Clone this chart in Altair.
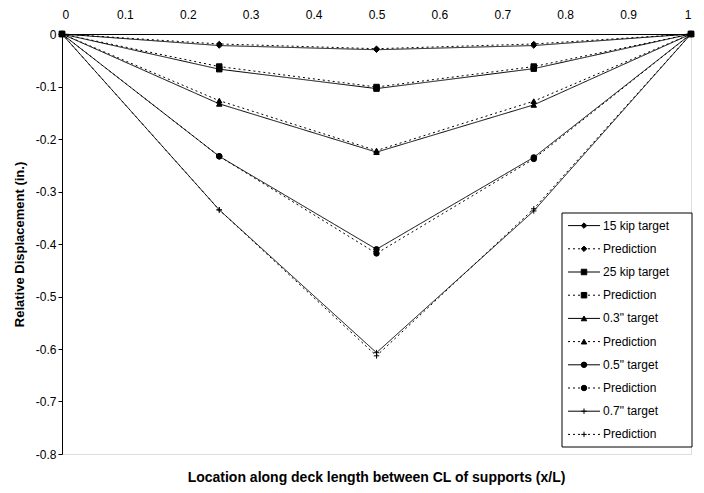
import altair as alt
import pandas as pd

x_pos = [0, 0.25, 0.5, 0.75, 1]
series_names = ["15 kip target", "Prediction (15 kip)", "25 kip target", "Prediction (25 kip)",
                "0.3\" target", "Prediction (0.3\")", "0.5\" target", "Prediction (0.5\")",
                "0.7\" target", "Prediction (0.7\")"]
t15 = [0, -0.022, -0.030, -0.022, 0]
p15 = [0, -0.019, -0.028, -0.019, 0]
t25 = [0, -0.067, -0.104, -0.066, 0]
p25 = [0, -0.062, -0.101, -0.062, 0]
t03 = [0, -0.133, -0.225, -0.135, 0]
p03 = [0, -0.127, -0.222, -0.128, 0]
t05 = [0, -0.233, -0.410, -0.235, 0]
p05 = [0, -0.233, -0.418, -0.238, 0]
t07 = [0, -0.335, -0.607, -0.337, 0]
p07 = [0, -0.335, -0.613, -0.333, 0]
all_vals = [t15, p15, t25, p25, t03, p03, t05, p05, t07, p07]
x_ticks = [0, 0.1, 0.2, 0.3, 0.4, 0.5, 0.6, 0.7, 0.8, 0.9, 1]
y_ticks = [0, -0.1, -0.2, -0.3, -0.4, -0.5, -0.6, -0.7, -0.8]

rows = []
for name, vals in zip(series_names, all_vals):
    for xv, yv in zip(x_pos, vals):
        rows.append({"series": name, "x": xv, "y": yv})
df = pd.DataFrame(rows)

cross_path = "M-1,0L1,0M0,-1L0,1"
shapes = ["diamond", "diamond", "square", "square", "triangle-up", "triangle-up",
          "circle", "circle", cross_path, cross_path]
dashes = [[1, 0], [2, 3]] * 5
sizes = [30, 30, 30, 30, 35, 35, 35, 35, 60, 60]

shape_scale = alt.Scale(domain=series_names, range=shapes)
dash_scale = alt.Scale(domain=series_names, range=dashes)
size_scale = alt.Scale(domain=series_names, range=sizes)

FONT = "Liberation Sans"

xenc = alt.X("x:Q", scale=alt.Scale(domain=[0, 1], nice=False),
             axis=alt.Axis(orient="top", values=x_ticks, labelExpr="'' + datum.value",
                           title=None, grid=False, labelFontSize=12,
                           labelFont=FONT, domainColor="black",
                           labelColor="black", labelPadding=13, ticks=False))
yenc = alt.Y("y:Q", scale=alt.Scale(domain=[-0.8, 0], nice=False),
             axis=alt.Axis(values=y_ticks, labelExpr="'' + datum.value",
                           title="Relative Displacement (in.)", titleFontSize=13,
                           titleFont=FONT, titleFontWeight="bold", titleColor="black",
                           grid=False, tickSize=4, labelFontSize=12, labelFont=FONT,
                           labelColor="black", domainColor="black", tickColor="black",
                           titlePadding=9))

lines = alt.Chart(df).mark_line(color="black", strokeWidth=1).encode(
    x=xenc, y=yenc,
    strokeDash=alt.StrokeDash("series:N", scale=dash_scale, legend=None),
    detail="series:N",
)
points = alt.Chart(df).mark_point(filled=True, color="black", stroke="black",
                                  strokeWidth=1, opacity=1).encode(
    x="x:Q", y="y:Q",
    shape=alt.Shape("series:N", scale=shape_scale, legend=None),
    size=alt.Size("series:N", scale=size_scale, legend=None),
)
data_layer = alt.layer(lines, points)

# manual legend
leg = pd.DataFrame({"series": series_names, "idx": list(range(10)),
                    "label": [("Prediction" if s.startswith("Prediction") else s) for s in series_names]})
ly = alt.Y("idx:Q", scale=alt.Scale(domain=[-0.5, 9.5], range=[180, 412]), axis=None)
LX = 500
leg_box = alt.Chart(pd.DataFrame({"a": [0]})).mark_rect(
    fill="white", stroke="black", strokeWidth=1).encode(
    x=alt.value(LX), x2=alt.value(LX + 130), y=alt.value(179), y2=alt.value(413))
leg_rule = alt.Chart(leg).mark_rule(color="black", strokeWidth=1).encode(
    x=alt.value(LX + 6), x2=alt.value(LX + 38), y=ly,
    strokeDash=alt.StrokeDash("series:N", scale=dash_scale, legend=None))
leg_pt = alt.Chart(leg).mark_point(filled=True, color="black", stroke="black",
                                   strokeWidth=1, opacity=1).encode(
    x=alt.value(LX + 22), y=ly,
    shape=alt.Shape("series:N", scale=shape_scale, legend=None),
    size=alt.Size("series:N", scale=size_scale, legend=None))
leg_txt = alt.Chart(leg).mark_text(align="left", baseline="middle", fontSize=12,
                                   font=FONT, color="black").encode(
    x=alt.value(LX + 41), y=ly, text="label:N")
legend_layer = alt.layer(leg_box, leg_rule, leg_pt, leg_txt)

chart = alt.layer(data_layer, legend_layer).resolve_scale(
    y="independent"
).properties(
    width=688, height=477,
    padding={"left": 5, "top": 0, "right": 0, "bottom": 0},
    autosize=alt.AutoSizeParams(type="fit", contains="padding"),
    title=alt.TitleParams(text="Location along deck length between CL of supports (x/L)",
                          orient="bottom", fontSize=14, font=FONT, fontWeight="bold",
                          color="black", offset=11),
).configure_view(stroke="black", strokeWidth=1).configure(background="white")

chart.save("out.html", embed_options={"renderer": "svg", "actions": False})
